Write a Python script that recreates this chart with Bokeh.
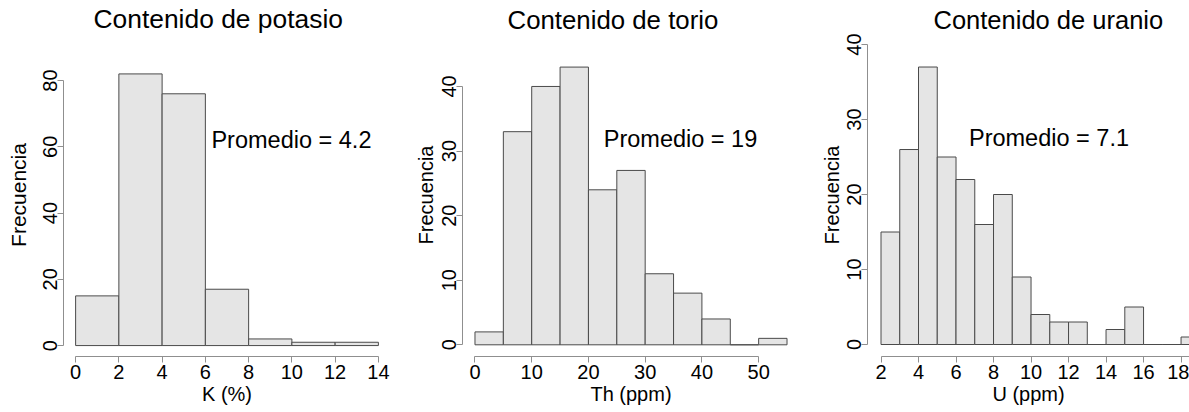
from bokeh.plotting import figure
from bokeh.layouts import row
from bokeh.models import FixedTicker, Label, Title, Range1d
from bokeh.embed import file_html
from bokeh.resources import INLINE

# ---------------- data ----------------
k_breaks = [0, 2, 4, 6, 8, 10, 12, 14]
k_counts = [15, 82, 76, 17, 2, 1, 1]
k_mean = 4.2

th_breaks = [0, 5, 10, 15, 20, 25, 30, 35, 40, 45, 50, 55]
th_counts = [2, 33, 40, 43, 24, 27, 11, 8, 4, 0, 1]
th_mean = 19

u_breaks = [2, 3, 4, 5, 6, 7, 8, 9, 10, 11, 12, 13, 14, 15, 16, 17, 18, 19]
u_counts = [15, 26, 37, 25, 22, 16, 20, 9, 4, 3, 3, 0, 2, 5, 0, 0, 1]
u_mean = 7.1

titles = ["Contenido de potasio", "Contenido de torio", "Contenido de uranio"]
x_labels = ["K (%)", "Th (ppm)", "U (ppm)"]
y_label = "Frecuencia"

k_xticks = [0, 2, 4, 6, 8, 10, 12, 14]
k_yticks = [0, 20, 40, 60, 80]
th_xticks = [0, 10, 20, 30, 40, 50]
th_yticks = [0, 10, 20, 30, 40]
u_xticks = [2, 4, 6, 8, 10, 12, 14, 16, 18, 20]
u_yticks = [0, 10, 20, 30, 40]

FONT = "Liberation Sans"
FILL = "#e5e5e5"
EDGE = "#4a4a4a"
AXIS = "#8f8f8f"


def panel(breaks, counts, xticks, yticks, title, xlabel, mean, width,
          border_left, border_right, x_range, y_range, title_offset,
          label_xy, ylab_standoff, title_size, tick_size="20px",
          ylab_size="20px"):
    p = figure(width=width, height=412, output_backend="svg",
               toolbar_location=None, x_range=Range1d(*x_range),
               y_range=Range1d(*y_range), min_border_left=border_left,
               min_border_right=border_right, min_border_top=33,
               min_border_bottom=56, title=None)
    p.quad(left=breaks[:-1], right=breaks[1:], bottom=0, top=counts,
           fill_color=FILL, line_color=EDGE, line_width=1)
    p.grid.visible = False
    p.outline_line_color = None
    p.background_fill_color = "white"
    p.border_fill_color = "white"

    t = Title(text=title, align="left", offset=title_offset,
              text_font=FONT, text_font_size=title_size,
              text_font_style="normal", text_color="black", standoff=0,
              vertical_align="bottom")
    p.add_layout(t, "above")

    for ax, ticks, lab in ((p.xaxis[0], xticks, xlabel),
                           (p.yaxis[0], yticks, y_label)):
        ax.ticker = FixedTicker(ticks=ticks)
        ax.bounds = (ticks[0], ticks[-1])
        ax.axis_line_color = AXIS
        ax.major_tick_line_color = AXIS
        ax.minor_tick_line_color = None
        ax.major_tick_in = 0
        ax.major_tick_out = 6
        ax.major_label_text_font = FONT
        ax.major_label_text_font_size = tick_size
        ax.major_label_text_color = "black"
        ax.axis_label = lab
        ax.axis_label_text_font = FONT
        ax.axis_label_text_font_style = "normal"
        ax.axis_label_text_color = "black"
    p.xaxis[0].axis_label_text_font_size = "20px"
    p.yaxis[0].axis_label_text_font_size = ylab_size
    p.xaxis[0].major_label_standoff = 2
    p.xaxis[0].axis_label_standoff = 1
    p.yaxis[0].major_label_standoff = 0
    p.yaxis[0].axis_label_standoff = ylab_standoff
    p.yaxis[0].major_label_orientation = "parallel"

    p.add_layout(Label(x=label_xy[0], y=label_xy[1], text=f"Promedio = {mean}",
                       text_font=FONT, text_font_size="23.5px",
                       text_color="black", text_align="left",
                       text_baseline="alphabetic"))
    return p


p1 = panel(k_breaks, k_counts, k_xticks, k_yticks, titles[0], x_labels[0],
           k_mean, 407, 63, 17, (-0.56, 14.56), (-3.3, 94.2), 30,
           (6.28, 62.2), 11, "26.4px", ylab_size="21px")
p2 = panel(th_breaks, th_counts, th_xticks, th_yticks, titles[1], x_labels[1],
           th_mean, 405, 55, 13, (-2.2, 57.2), (-1.81, 48.2), 45,
           (22.7, 31.9), 3, "25.8px")
p3 = panel(u_breaks, u_counts, u_xticks, u_yticks, titles[2], x_labels[2],
           u_mean, 377, 55, 0, (1.28, 18.45), (-1.6, 41.47), 66,
           (6.69, 27.6), 2, "25.5px")

layout = row(p1, p2, p3, spacing=0)
open("out.html", "w").write(file_html(layout, INLINE))
